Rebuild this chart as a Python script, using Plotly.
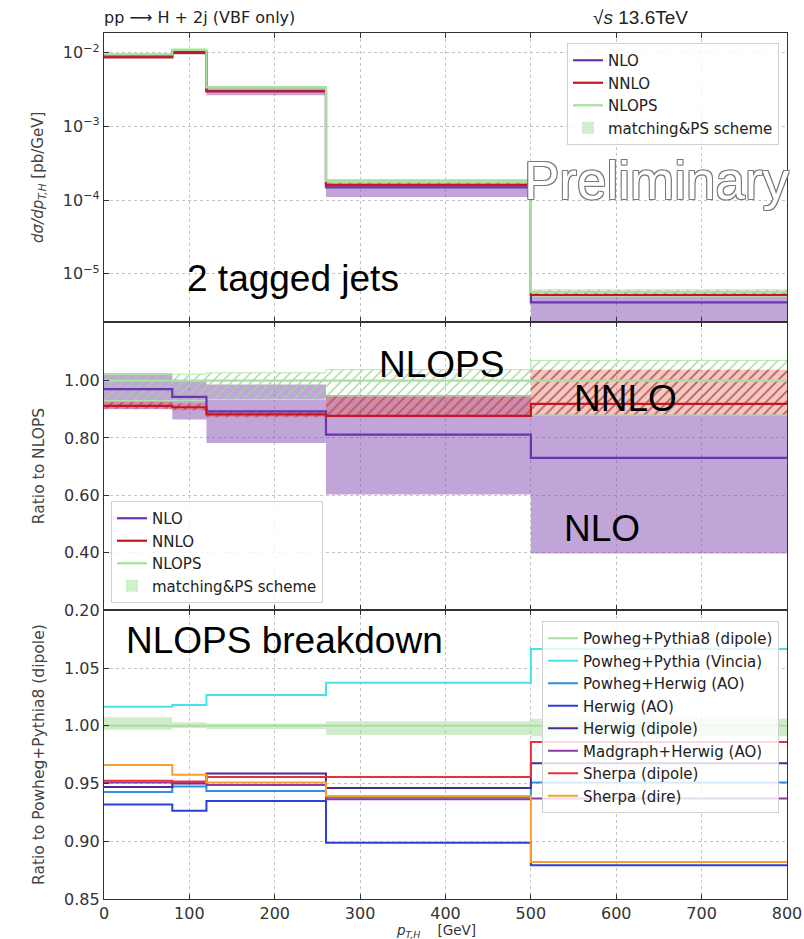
import plotly.graph_objects as go
from plotly.subplots import make_subplots

# ---------------- data ----------------
edges = [0, 80, 120, 260, 500, 800]
xticks = [0, 100, 200, 300, 400, 500, 600, 700, 800]

# top panel: d sigma / d pT,H  [pb/GeV]
nlops_xs = [9.5e-3, 1.10e-2, 3.40e-3, 1.83e-4, 5.65e-6]
nnlo_xs = [8.7e-3, 1.00e-2, 3.00e-3, 1.60e-4, 5.15e-6]
nlo_xs = [9.2e-3, 1.04e-2, 3.04e-3, 1.49e-4, 4.10e-6]

# middle panel: ratio to NLOPS
r_nlo = [0.970, 0.943, 0.893, 0.812, 0.731]
r_nlo_lo = [0.900, 0.864, 0.783, 0.603, 0.398]
r_nlo_hi = [1.025, 0.998, 0.986, 0.950, 0.882]
r_nnlo = [0.912, 0.907, 0.882, 0.877, 0.919]
r_nnlo_lo = [0.902, 0.897, 0.872, 0.872, 0.882]
r_nnlo_hi = [0.925, 0.920, 0.895, 0.945, 1.038]
r_ps_lo = [0.930, 0.930, 0.934, 0.945, 0.880]
r_ps_hi = [1.022, 1.022, 1.027, 1.038, 1.070]
r_nlops = [1.0, 1.0, 1.0, 1.0, 1.0]

# bottom panel: ratio to Powheg+Pythia8 (dipole)
ref_line = [1.0, 1.0, 1.0, 1.0, 1.0]
ref_band_lo = [0.9965, 0.998, 0.997, 0.992, 0.991]
ref_band_hi = [1.0075, 1.003, 1.002, 1.004, 1.006]
gen_names = ["Powheg+Pythia (Vincia)", "Powheg+Herwig (AO)", "Herwig (AO)",
             "Herwig (dipole)", "Madgraph+Herwig (AO)", "Sherpa (dipole)", "Sherpa (dire)"]
vincia = [1.0165, 1.018, 1.0267, 1.0373, 1.0666]
pw_herwig_ao = [0.9427, 0.9474, 0.9436, 0.9380, 0.9510]
herwig_ao = [0.9318, 0.9265, 0.9349, 0.8988, 0.8793]
herwig_dipole = [0.9470, 0.9500, 0.9587, 0.9462, 0.9676]
madgraph_herwig = [0.9510, 0.9510, 0.9488, 0.9364, 0.9370]
sherpa_dipole = [0.9523, 0.9517, 0.9557, 0.9557, 0.9860]
sherpa_dire = [0.9660, 0.9575, 0.9510, 0.9392, 0.8820]
gen_values = [vincia, pw_herwig_ao, herwig_ao, herwig_dipole, madgraph_herwig, sherpa_dipole, sherpa_dire]
gen_colors = ["#45e3e8", "#2f8fe0", "#2c3fdc", "#4e2b8c", "#8d3c9e", "#e8323a", "#f5a030"]

# ---------------- styles ----------------
C_NLO = "#6a35b0"
C_NNLO = "#c8161e"
C_NLOPS = "#a6e09e"
NLO_FILL = "rgba(133,75,177,0.5)"
W, H = 804, 939
ML, MR, MT, MB = 104, 17, 33, 40
PW, PH = W - ML - MR, H - MT - MB


def step(v):
    return list(v) + [v[-1]]


def px(x, y):
    return (x - ML) / PW, 1 - (y - MT) / PH


fig = make_subplots(rows=3, cols=1, shared_xaxes=True, vertical_spacing=0)


def band(row, lo, hi, fillcolor, pattern=None, linecolor=None, lw=0):
    lc = linecolor if linecolor else "rgba(0,0,0,0)"
    fig.add_trace(go.Scatter(x=edges, y=step(lo), mode="lines",
                             line=dict(shape="hv", width=lw, color=lc),
                             showlegend=False, hoverinfo="skip"), row=row, col=1)
    kw = dict(fillpattern=pattern) if pattern else {}
    fig.add_trace(go.Scatter(x=edges, y=step(hi), mode="lines",
                             line=dict(shape="hv", width=lw, color=lc),
                             fill="tonexty", fillcolor=fillcolor,
                             showlegend=False, hoverinfo="skip", **kw), row=row, col=1)


ps_pattern = dict(shape="/", fgcolor="#9ad893", bgcolor="rgba(255,255,255,0)",
                  size=7, solidity=0.18, fillmode="replace")
nnlo_pattern = dict(shape="/", fgcolor="rgba(180,40,40,0.55)", bgcolor="rgba(225,90,90,0.35)",
                    size=7, solidity=0.25, fillmode="replace")

# ----- top panel -----
band(1, [a * b for a, b in zip(r_nlo_lo, nlops_xs)], [a * b for a, b in zip(r_nlo_hi, nlops_xs)], NLO_FILL)
band(1, [a * b for a, b in zip(r_ps_lo, nlops_xs)], [a * b for a, b in zip(r_ps_hi, nlops_xs)],
     "rgba(0,0,0,0)", ps_pattern, "#b5e6ae", 1)
band(1, [a * b for a, b in zip(r_nnlo_lo, nlops_xs)], [a * b for a, b in zip(r_nnlo_hi, nlops_xs)],
     "rgba(225,90,90,0.35)", nnlo_pattern)
for name, vals, col in [("NLO", nlo_xs, C_NLO), ("NNLO", nnlo_xs, C_NNLO), ("NLOPS", nlops_xs, C_NLOPS)]:
    fig.add_trace(go.Scatter(x=edges, y=step(vals), mode="lines", name=name,
                             line=dict(shape="hv", width=2.2, color=col), legend="legend"), row=1, col=1)
fig.add_trace(go.Bar(x=[None], y=[None], name="matching&PS scheme", legend="legend",
                     marker=dict(color="rgba(200,240,195,0.7)",
                                 pattern=dict(shape="x", fgcolor="#8fd48a", size=4, solidity=0.3),
                                 line=dict(width=0))), row=1, col=1)

# ----- middle panel -----
band(2, r_nlo_lo, r_nlo_hi, NLO_FILL)
band(2, r_ps_lo, r_ps_hi, "rgba(0,0,0,0)", ps_pattern, "#b5e6ae", 1)
band(2, r_nnlo_lo, r_nnlo_hi, "rgba(225,90,90,0.35)", nnlo_pattern)
for name, vals, col in [("NLO", r_nlo, C_NLO), ("NNLO", r_nnlo, C_NNLO), ("NLOPS", r_nlops, C_NLOPS)]:
    fig.add_trace(go.Scatter(x=edges, y=step(vals), mode="lines", name=name,
                             line=dict(shape="hv", width=2.2, color=col), legend="legend2"), row=2, col=1)
fig.add_trace(go.Bar(x=[None], y=[None], name="matching&PS scheme", legend="legend2",
                     marker=dict(color="rgba(200,240,195,0.7)",
                                 pattern=dict(shape="x", fgcolor="#8fd48a", size=4, solidity=0.3),
                                 line=dict(width=0))), row=2, col=1)

# ----- bottom panel -----
band(3, ref_band_lo, ref_band_hi, "rgba(150,215,140,0.45)")
fig.add_trace(go.Scatter(x=edges, y=step(ref_line), mode="lines", name="Powheg+Pythia8 (dipole)",
                         line=dict(shape="hv", width=2, color=C_NLOPS), legend="legend3"), row=3, col=1)
for name, vals, col in zip(gen_names, gen_values, gen_colors):
    fig.add_trace(go.Scatter(x=edges, y=step(vals), mode="lines", name=name,
                             line=dict(shape="hv", width=2, color=col), legend="legend3"), row=3, col=1)

# ---------------- axes ----------------
axcommon = dict(showgrid=True, gridcolor="#c4c4c4", griddash="dot", gridwidth=1,
                ticks="inside", ticklen=5, tickcolor="#333", showline=True, linecolor="#333",
                linewidth=1.2, zeroline=False, tickfont=dict(size=16, color="#333"), automargin=False)
for r in (1, 2, 3):
    fig.update_xaxes(range=[0, 800], tickvals=xticks, mirror="ticks",
                     showticklabels=(r == 3), row=r, col=1, **axcommon)
fig.update_xaxes(ticklabelstandoff=0, row=3, col=1)

fig.update_yaxes(type="log", range=[-5.65, -1.73], tickvals=[1e-5, 1e-4, 1e-3, 1e-2],
                 ticktext=["10<sup>−5</sup>", "10<sup>−4</sup>", "10<sup>−3</sup>", "10<sup>−2</sup>"],
                 mirror=True, row=1, col=1, **axcommon)
fig.update_yaxes(title=dict(text="<i>dσ/dp</i><sub><i>T,H</i></sub> [pb/GeV]", font=dict(size=15, color="#444")),
                 row=1, col=1)
fig.update_yaxes(range=[0.2, 1.205], tickvals=[0.2, 0.4, 0.6, 0.8, 1.0], tickformat=".2f",
                 mirror=True, title=dict(text="Ratio to NLOPS", font=dict(size=15.5, color="#444")),
                 row=2, col=1, **axcommon)
fig.update_yaxes(range=[0.85, 1.10], tickvals=[0.85, 0.90, 0.95, 1.00, 1.05], tickformat=".2f",
                 mirror=True, title=dict(text="Ratio to Powheg+Pythia8 (dipole)", font=dict(size=15.5, color="#444")),
                 row=3, col=1, **axcommon)

# ---------------- layout / legends ----------------
leg = dict(font=dict(size=15, color="#222", family="DejaVu Sans"), bgcolor="rgba(255,255,255,0.82)",
           bordercolor="#d0d0d0", borderwidth=1, traceorder="normal")
lx_r, ly_top = px(779, 43)
l2x, l2y = px(111, 603)
l3x, l3y = px(779, 621)
fig.update_layout(
    width=W, height=H, margin=dict(l=ML, r=MR, t=MT, b=MB, autoexpand=False),
    plot_bgcolor="white", paper_bgcolor="white",
    font=dict(family="DejaVu Sans", size=15, color="#333"),
    barmode="overlay",
    legend=dict(x=lx_r, y=ly_top, xanchor="right", yanchor="top", **leg),
    legend2=dict(x=l2x, y=l2y, xanchor="left", yanchor="bottom", **leg),
    legend3=dict(x=l3x, y=l3y, xanchor="right", yanchor="top", **leg),
)

big = dict(family="Liberation Sans", size=37, color="black")
annots = [
    (103, 18, "pp ⟶ H + 2j (VBF only)", dict(family="DejaVu Sans", size=16, color="#222"), "left"),
    (592, 18, "√<i>s</i> 13.6TeV", dict(family="Liberation Sans", size=19, color="#222"), "left"),
    (395, 931, "<i>p</i><sub><i>T,H</i></sub>    [GeV]", dict(family="DejaVu Sans", size=13.5, color="#333"), "left"),
    (186, 278, "2 tagged jets", big, "left"),
    (378, 365, "NLOPS", big, "left"),
    (573, 398, "NNLO", big, "left"),
    (563, 528, "NLO", big, "left"),
    (125, 640, "NLOPS breakdown", big, "left"),
]
for x, y, t, f, xa in annots:
    ax_, ay_ = px(x, y)
    fig.add_annotation(x=ax_, y=ay_, xref="paper", yref="paper", text=t, showarrow=False,
                       xanchor=xa, yanchor="middle", font=f, borderpad=0)
pxp, pyp = px(522, 180)
fig.add_annotation(x=pxp, y=pyp, xref="paper", yref="paper", text="Preliminary", showarrow=False,
                   xanchor="left", yanchor="middle",
                   font=dict(family="Liberation Sans", size=53, color="white",
                             shadow="1px 1px 0 #777, -1px -1px 0 #777, 1px -1px 0 #777, -1px 1px 0 #777"))

fig.write_html("out.html")
